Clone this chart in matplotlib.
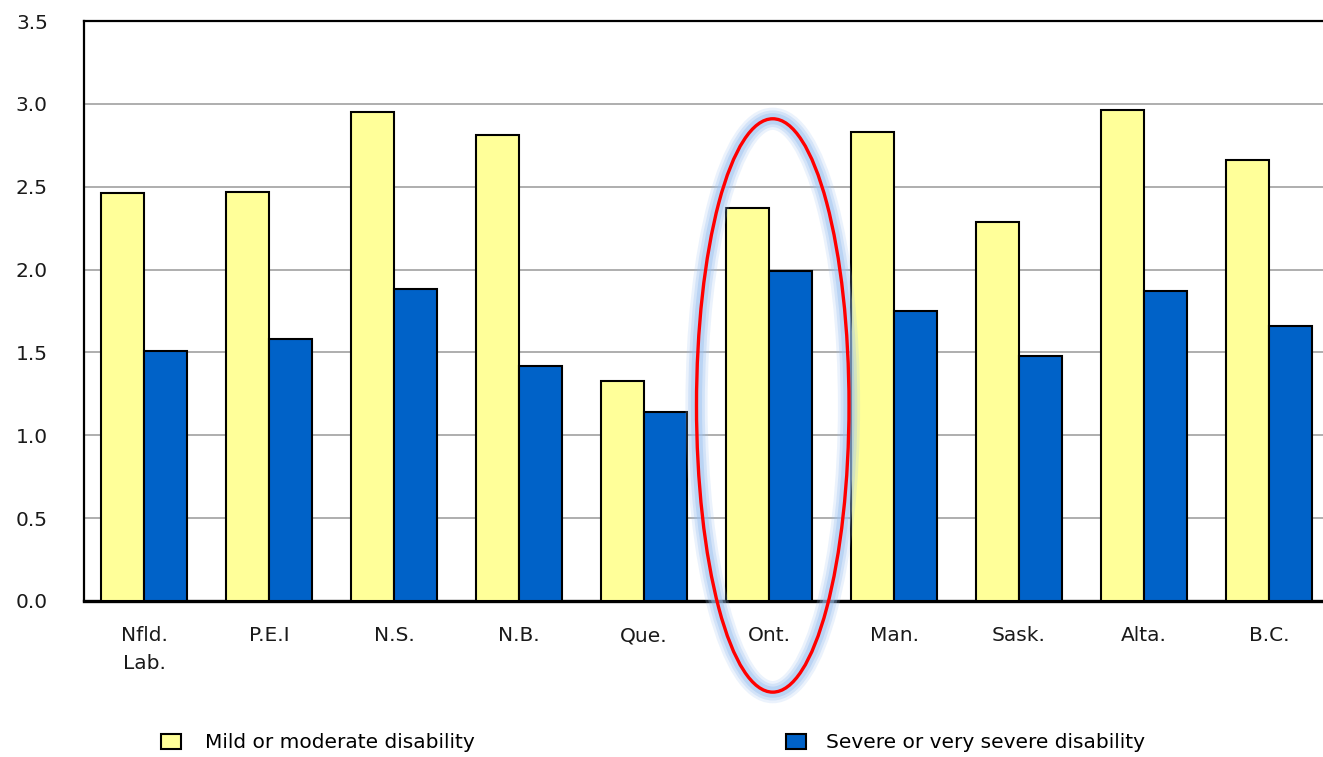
import numpy as np
import matplotlib
matplotlib.use('Agg')
import matplotlib.pyplot as plt
from matplotlib.patches import Ellipse, Patch

provinces = ["Nfld.\nLab.", "P.E.I", "N.S.", "N.B.", "Que.", "Ont.", "Man.", "Sask.", "Alta.", "B.C."]
mild = [2.46, 2.47, 2.95, 2.81, 1.33, 2.37, 2.83, 2.29, 2.96, 2.66]
severe = [1.51, 1.58, 1.88, 1.42, 1.14, 1.99, 1.75, 1.48, 1.87, 1.66]
legend_labels = ["Mild or moderate disability", "Severe or very severe disability"]

yellow = "#FFFF99"
blue = "#0062C8"

plt.rcParams['font.family'] = ['DejaVu Sans']

fig = plt.figure(figsize=(13.23, 7.57), dpi=100)
ax = fig.add_axes([84 / 1323, 1 - 601 / 757, 1252 / 1323, 580 / 757])

x = np.arange(len(provinces))
w = 0.344
ax.bar(x - w / 2, mild, w, color=yellow, edgecolor="black", linewidth=1.5, zorder=3)
ax.bar(x + w / 2, severe, w, color=blue, edgecolor="black", linewidth=1.5, zorder=3)

ax.set_xlim(-0.48, 9.536)
ax.set_ylim(0, 3.5)
ax.set_yticks(np.arange(0, 3.51, 0.5))
ax.set_yticklabels(["%.1f" % v for v in np.arange(0, 3.51, 0.5)], fontsize=14.5, color="#1a1a1a")
ax.set_xticks(x)
ax.set_xticklabels(provinces, fontsize=14.5, color="#1a1a1a", linespacing=1.6)
ax.tick_params(axis="y", length=0, pad=26)
ax.tick_params(axis="x", length=0, pad=18)
ax.yaxis.grid(True, color="#A8A8A8", linewidth=1.3, zorder=0)
ax.set_axisbelow(True)

ax.spines["left"].set_linewidth(1.6)
ax.spines["top"].set_linewidth(1.6)
ax.spines["bottom"].set_linewidth(2.4)
ax.spines["right"].set_visible(False)

# highlight around Ontario, with a soft blue glow
cx, cy, ew, eh = 5.03, 1.18, 1.22, 3.46
for lw, a in [(16, 0.2), (12, 0.3), (8, 0.45)]:
    ax.add_patch(Ellipse((cx, cy), ew, eh, fill=False, edgecolor="#9CC2F0",
                         linewidth=lw, alpha=a, clip_on=False, zorder=5))
ax.add_patch(Ellipse((cx, cy), ew, eh, fill=False, edgecolor="#FF0000",
                     linewidth=2.4, clip_on=False, zorder=6))

h1 = Patch(facecolor=yellow, edgecolor="black", linewidth=1.5)
h2 = Patch(facecolor=blue, edgecolor="black", linewidth=1.5)
fig.legend([h1], [legend_labels[0]], loc="center left", bbox_to_anchor=(143 / 1323, 1 - 743 / 757),
           frameon=False, fontsize=14.5, handlelength=1.0, handleheight=0.8, handletextpad=1.2)
fig.legend([h2], [legend_labels[1]], loc="center left", bbox_to_anchor=(768 / 1323, 1 - 743 / 757),
           frameon=False, fontsize=14.5, handlelength=1.0, handleheight=0.8, handletextpad=1.0)

plt.savefig("out.png", dpi=100)
plt.close()
